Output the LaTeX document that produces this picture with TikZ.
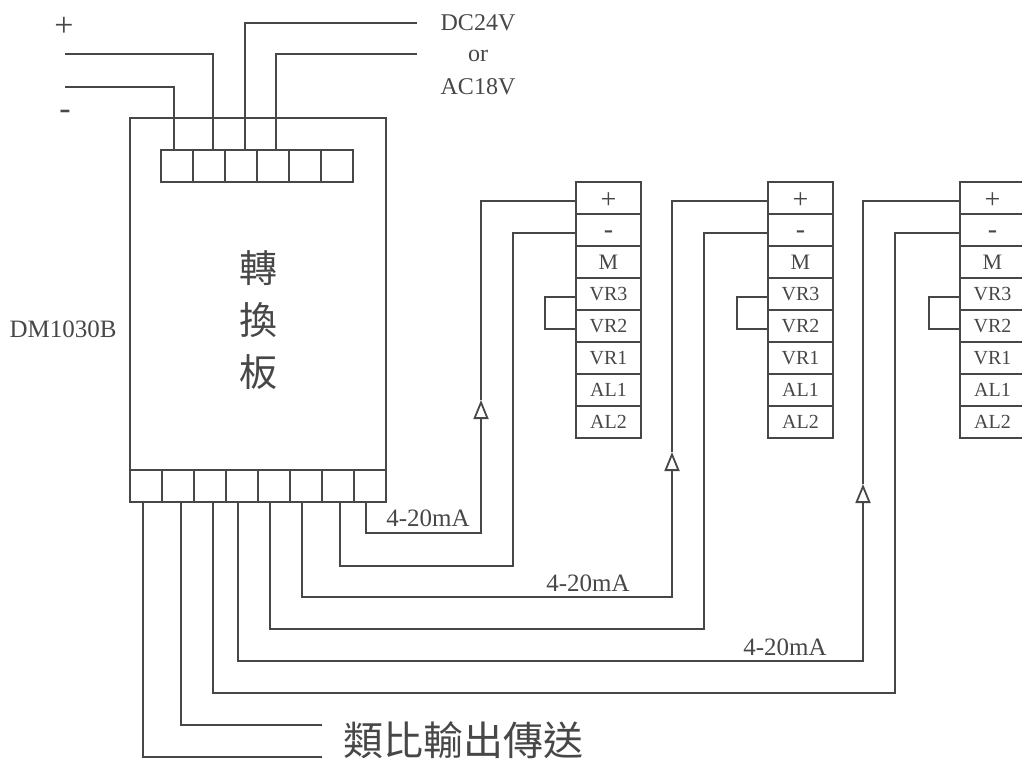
\documentclass[tikz,border=0pt]{standalone}
\usepackage{fontspec}
\setmainfont{Liberation Serif}
\newfontfamily\cjk{Noto Sans CJK TC}[Scale=1]
\usepackage{tikz}
\usetikzlibrary{arrows.meta}

\definecolor{inkgray}{gray}{0.28}
\tikzset{
	wire/.style={draw=inkgray,line width=1.8bp},
	cell/.style={draw=inkgray,line width=1.8bp,inner sep=0pt,outer sep=0pt,text=inkgray},
	label/.style={inner sep=0pt,text=inkgray,font=\fontsize{25bp}{28bp}\selectfont},
	hollow/.style={-{Triangle[open,length=19bp,width=15bp,line width=1.8bp]}}
}

\begin{document}
\begin{tikzpicture}[x=1bp,y=-1bp]
	\useasboundingbox (0,0) rectangle (1022,764);

	% board with its two rows of terminals
	\node (board) at (258,310) [cell,minimum width=256bp,minimum height=384bp] {};
	\foreach \i in {1,...,6}
		\node (t\i) at (145+32*\i,166) [cell,minimum width=32bp,minimum height=32bp] {};
	\foreach \i in {1,...,8}
		\node (b\i) at (114+32*\i,486) [cell,minimum width=32bp,minimum height=32bp] {};
	\node (title) at (258,320) [inner sep=0pt,align=center,text=inkgray,font=\cjk\fontsize{38bp}{52bp}\selectfont] {轉\\換\\板};
	\node (model) at (63,329) [label] {DM1030B};

	% meter strips
	\foreach \m/\x in {1/608.5,2/800.5,3/992.5} {
		\foreach \lab/\sz [count=\i] in {\raisebox{-10bp}[0pt][0pt]{+}/28,\raisebox{-8.5bp}[0pt][0pt]{-}/28,M/22,VR3/20,VR2/20,VR1/20,AL1/20,AL2/20}
			\node (m\m c\i) at (\x,166+32*\i) [cell,minimum width=65bp,minimum height=32bp,font=\fontsize{\sz bp}{24bp}\selectfont] {\lab};
		\coordinate (j\m) at (\x-63.5,313);
		\draw [wire] ([yshift=-3bp]m\m c4.west) -| (j\m) |- ([yshift=-3bp]m\m c5.west);
	}

	% power supply
	\node (plus) at (64,27) [label,font=\fontsize{34bp}{34bp}\selectfont] {+};
	\node (minus) at (65,115) [label,font=\fontsize{34bp}{34bp}\selectfont] {-};
	\node (dc) at (478,23) [label,font=\fontsize{24bp}{28bp}\selectfont] {DC24V};
	\node (or) at (478,56) [label,font=\fontsize{24bp}{28bp}\selectfont] {or};
	\node (ac) at (478,87) [label,font=\fontsize{24bp}{28bp}\selectfont] {AC18V};
	\coordinate (pa) at (65,54);
	\coordinate (pb) at (65,87);
	\coordinate (pc) at (417,23);
	\coordinate (pd) at (417,54);
	\draw [wire] (pb) -| ([xshift=-3bp]t1.north);
	\draw [wire] (pa) -| ([xshift=4bp]t2.north);
	\draw [wire] (pc) -| ([xshift=4bp]t3.north);
	\draw [wire] (pd) -| ([xshift=3bp]t4.north);

	% 4-20mA loops
	\coordinate (a1) at (481,400);
	\coordinate (a2) at (672,452);
	\coordinate (a3) at (863,484);
	\coordinate (c1) at (481,533);
	\coordinate (c2) at (513,566);
	\coordinate (c3) at (672,597);
	\coordinate (c4) at (704,629);
	\coordinate (c5) at (863,661);
	\coordinate (c6) at (895,693);
	\draw [wire,hollow] ([xshift=-4bp]b8.south) |- (c1) -- (a1);
	\draw [wire] (a1) |- ([yshift=-3bp]m1c1.west);
	\draw [wire] ([xshift=2bp]b7.south) |- (c2) |- ([yshift=-3bp]m1c2.west);
	\draw [wire,hollow] ([xshift=-4bp]b6.south) |- (c3) -- (a2);
	\draw [wire] (a2) |- ([yshift=-3bp]m2c1.west);
	\draw [wire] ([xshift=-4bp]b5.south) |- (c4) |- ([yshift=-3bp]m2c2.west);
	\draw [wire,hollow] ([xshift=-4bp]b4.south) |- (c5) -- (a3);
	\draw [wire] (a3) |- ([yshift=-3bp]m3c1.west);
	\draw [wire] ([xshift=3bp]b3.south) |- (c6) |- ([yshift=-3bp]m3c2.west);
	\node (ma1) at (428,518) [label] {4-20mA};
	\node (ma2) at (588,583) [label] {4-20mA};
	\node (ma3) at (785,647) [label] {4-20mA};

	% analog output
	\coordinate (oa) at (322,725);
	\coordinate (ob) at (322,757);
	\draw [wire] ([xshift=3bp]b2.south) |- (oa);
	\draw [wire] ([xshift=-3bp]b1.south) |- (ob);
	\node (output) at (463,740) [inner sep=0pt,text=inkgray,font=\cjk\fontsize{40bp}{44bp}\selectfont] {類比輸出傳送};
\end{tikzpicture}
\end{document}
